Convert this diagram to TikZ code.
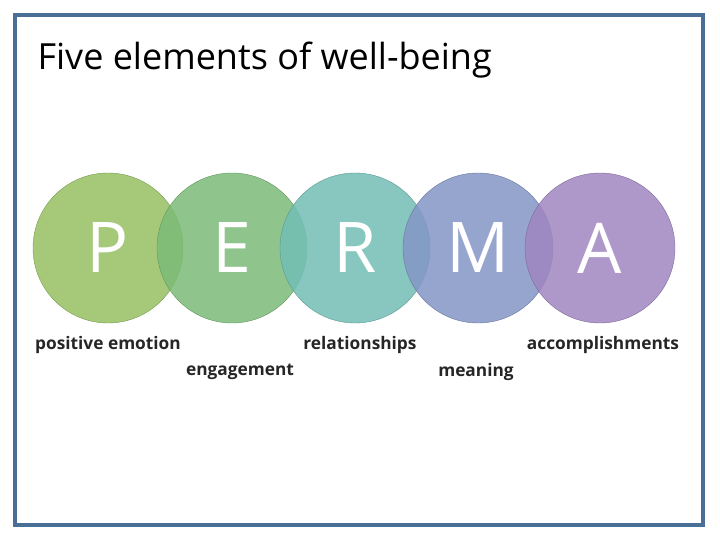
\documentclass[tikz,border=0pt]{standalone}
\usepackage{fontspec}
\setmainfont{Open Sans}
\definecolor{frameblue}{HTML}{4A6F96}
\definecolor{cP}{HTML}{96C062}
\definecolor{cE}{HTML}{7CBC78}
\definecolor{cR}{HTML}{72BEB6}
\definecolor{cM}{HTML}{8496C6}
\definecolor{cA}{HTML}{A086C0}
\tikzset{
  ball/.style={circle, minimum size=150pt, inner sep=0pt, fill opacity=0.85,
    text opacity=1, text=white, font=\fontsize{70}{70}\selectfont},
  word/.style={font=\fontsize{17.3}{17.3}\selectfont\bfseries, text=black!85}
}
\begin{document}
\begin{tikzpicture}[x=1pt, y=-1pt]
        \useasboundingbox (0,0) rectangle (720,540);
        \fill[white] (0,0) rectangle (720,540);
        \draw[frameblue, line width=4pt] (15,15) rectangle (703,525);
        \node[anchor=west, font=\fontsize{36}{36}\selectfont] (title) at (34,60)
            {Five elements of well-being};
        % circles
        \node[ball, fill=cP, draw=cP!80!black] (p) at (108,248) {P};
        \node[ball, fill=cE, draw=cE!80!black] (e) at (232,248) {E};
        \node[ball, fill=cR, draw=cR!80!black] (r) at (355,248) {R};
        \node[ball, fill=cM, draw=cM!80!black] (m) at (478,248) {M};
        \node[ball, fill=cA, draw=cA!80!black] (a) at (600,248) {A};
        % labels
        \node[word] (lp) at (108,345) {positive emotion};
        \node[word] (le) at (240,372) {engagement};
        \node[word] (lr) at (360,345) {relationships};
        \node[word] (lm) at (476,372) {meaning};
        \node[word] (la) at (603,345) {accomplishments};
    \end{tikzpicture}
\end{document}
